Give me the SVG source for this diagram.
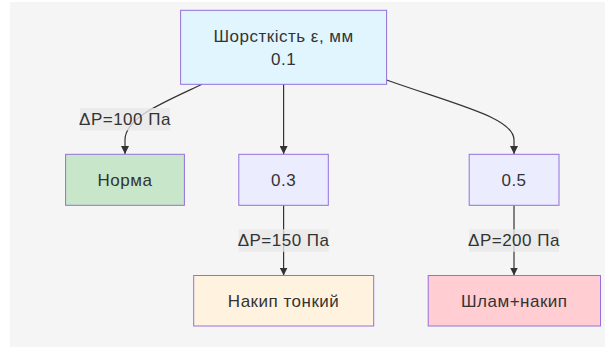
<svg xmlns="http://www.w3.org/2000/svg" width="605" height="347" viewBox="0 0 605 347">
  <style>
    .node rect { stroke: #9370db; stroke-width: 1; }
    .node text, .elabel text { font-family: "Liberation Sans", Arial, sans-serif; font-size: 17px; letter-spacing: 0.5px; fill: #333333; text-anchor: middle; dominant-baseline: central; }
    .edge { fill: none; stroke: #333333; stroke-width: 1.2; }
    .elabel rect { fill: #e8e8e8; opacity: 0.8; }
  </style>
  <defs>
    <marker id="arrow" viewBox="0 0 10 10" refX="10" refY="5" markerWidth="8" markerHeight="8" markerUnits="userSpaceOnUse" orient="auto">
      <path d="M0,0 L10,5 L0,10 z" fill="#333333"/>
    </marker>
  </defs>

  <!-- canvas -->
  <rect x="10" y="2" width="595" height="345" fill="#f5f5f5"/>

  <!-- connectors -->
  <g id="edges">
    <path class="edge" d="M202,84.3 C160,104 125,118 125,140 L125,154" marker-end="url(#arrow)"/>
    <path class="edge" d="M283.6,84.3 L283.6,154" marker-end="url(#arrow)"/>
    <path class="edge" d="M386.6,80 C460,106 514,118 514,140 L514,154" marker-end="url(#arrow)"/>
    <path class="edge" d="M283.6,205.3 L283.6,275.5" marker-end="url(#arrow)"/>
    <path class="edge" d="M514,205.3 L514,275.5" marker-end="url(#arrow)"/>
  </g>

  <!-- edge labels -->
  <g id="edge-labels">
    <g class="elabel">
      <rect x="80" y="108" width="90" height="22.5"/>
      <text x="125" y="119.5">ΔP=100 Па</text>
    </g>
    <g class="elabel">
      <rect x="238.5" y="229.3" width="90" height="22.5"/>
      <text x="283.6" y="240.5">ΔP=150 Па</text>
    </g>
    <g class="elabel">
      <rect x="469" y="229.3" width="90" height="22.5"/>
      <text x="514" y="240.5">ΔP=200 Па</text>
    </g>
  </g>

  <!-- nodes -->
  <g id="node-roughness" class="node">
    <rect x="180.6" y="10.3" width="206" height="74" fill="#e1f5fe"/>
    <text x="283.6" y="36.5">Шорсткість ε, мм</text>
    <text x="283.6" y="59">0.1</text>
  </g>
  <g id="node-norma" class="node">
    <rect x="65.6" y="154.3" width="118.8" height="51" fill="#c8e6c9"/>
    <text x="125" y="180">Норма</text>
  </g>
  <g id="node-03" class="node">
    <rect x="238.8" y="154.3" width="89.5" height="51" fill="#ececff"/>
    <text x="283.6" y="180">0.3</text>
  </g>
  <g id="node-05" class="node">
    <rect x="469.2" y="154.3" width="89.8" height="51" fill="#ececff"/>
    <text x="514" y="180">0.5</text>
  </g>
  <g id="node-thin-scale" class="node">
    <rect x="193.7" y="275.5" width="180" height="50.5" fill="#fff3e0"/>
    <text x="283.6" y="301">Накип тонкий</text>
  </g>
  <g id="node-sludge" class="node">
    <rect x="428.2" y="275.5" width="172.3" height="50.5" fill="#ffcdd2"/>
    <text x="514.3" y="301">Шлам+накип</text>
  </g>
</svg>
